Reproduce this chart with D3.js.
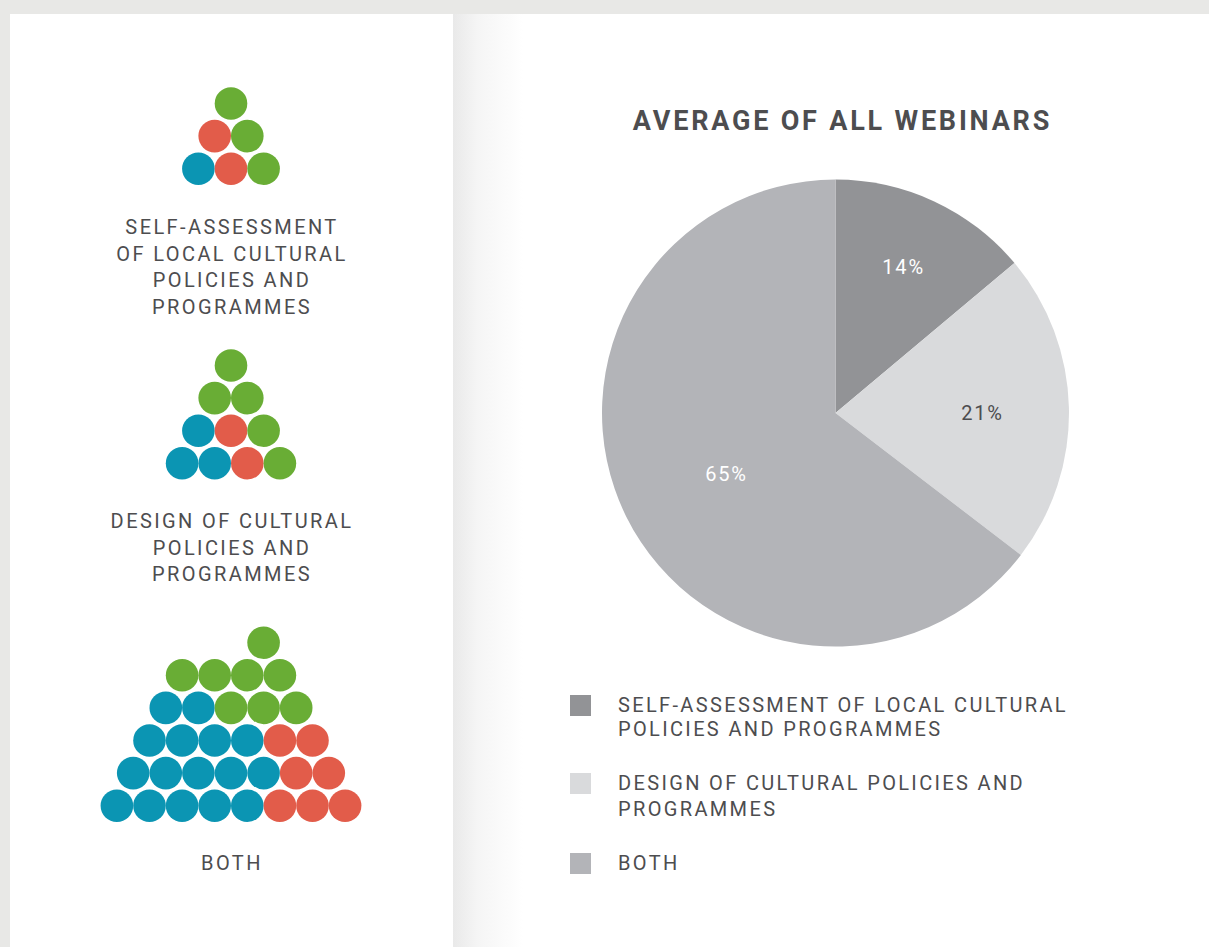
<!DOCTYPE html>
<html>
<head>
<meta charset="utf-8">
<script src="https://cdn.jsdelivr.net/npm/d3@7"></script>
<style>
    html, body { margin: 0; padding: 0; background: #e8e8e6; }
    svg { display: block; }
    text { font-family: Roboto, sans-serif; fill: #4d4d4f; }
</style>
</head>
<body>
<div id="chart"></div>
<script>
    // pie data, slices read off the picture so they don't sum from the rounded labels
    const pieLabels = ["14%", "21%", "65%"];
    const pieValues = [13.9, 21.5, 64.6];
    const pieColors = ["#929396", "#d9dadc", "#b3b4b8"];
    const pieTextColors = ["#ffffff", "#4d4d4f", "#ffffff"];

    // legend
    const legendLines = [
        ["SELF-ASSESSMENT OF LOCAL CULTURAL", "POLICIES AND PROGRAMMES"],
        ["DESIGN OF CULTURAL POLICIES AND", "PROGRAMMES"],
        ["BOTH"]
    ];

    // pyramids, top row first. g/r/b = dot colour, "-" = empty slot
    const pyramidSelf = [
        ["g"],
        ["r", "g"],
        ["b", "r", "g"]
    ];
    const pyramidDesign = [
        ["g"],
        ["g", "g"],
        ["b", "r", "g"],
        ["b", "b", "r", "g"]
    ];
    const pyramidBoth = [
        ["-", "-", "g"],
        ["g", "g", "g", "g"],
        ["b", "b", "g", "g", "g"],
        ["b", "b", "b", "b", "r", "r"],
        ["b", "b", "b", "b", "b", "r", "r"],
        ["b", "b", "b", "b", "b", "r", "r", "r"]
    ];
    const pyramidTitles = [
        ["SELF-ASSESSMENT", "OF LOCAL CULTURAL", "POLICIES AND", "PROGRAMMES"],
        ["DESIGN OF CULTURAL", "POLICIES AND", "PROGRAMMES"],
        ["BOTH"]
    ];

    const width = 1209, height = 947;

    const svg = d3.select("#chart").append("svg")
        .attr("width", width)
        .attr("height", height);

    // page shadow next to the fold
    const grad = svg.append("defs").append("linearGradient").attr("id", "fold");
    grad.append("stop").attr("offset", "0%").attr("stop-color", "#e9e9e9");
    grad.append("stop").attr("offset", "35%").attr("stop-color", "#f5f5f5");
    grad.append("stop").attr("offset", "100%").attr("stop-color", "#ffffff");

    svg.append("rect").attr("x", 10).attr("y", 14).attr("width", 443).attr("height", height - 14).attr("fill", "#ffffff");
    svg.append("rect").attr("x", 453).attr("y", 14).attr("width", width - 453).attr("height", height - 14).attr("fill", "#ffffff");
    svg.append("rect").attr("x", 453).attr("y", 14).attr("width", 70).attr("height", height - 14).attr("fill", "url(#fold)");

    // dots
    const dotColor = d3.scaleOrdinal()
        .domain(["g", "r", "b"])
        .range(["#69ad35", "#e25c4a", "#0b95b3"]);

    const step = 32.6;
    const radius = 16.3;

    function drawPyramid(rows, topY, titles, titleY) {
        const g = svg.append("g");
        const yScale = d3.scaleLinear().domain([0, 1]).range([topY, topY + step]);

        rows.forEach((row, r) => {
            const xScale = d3.scaleLinear()
                .domain([0, 1])
                .range([231 - (row.length - 1) * step / 2, 231 - (row.length - 1) * step / 2 + step]);

            g.selectAll(".row-" + r)
                .data(row.map((c, i) => ({ c: c, i: i })).filter(d => d.c !== "-"))
                .enter()
                .append("circle")
                .attr("class", "row-" + r)
                .attr("cx", d => xScale(d.i))
                .attr("cy", yScale(r))
                .attr("r", radius)
                .attr("fill", d => dotColor(d.c));
        });

        g.selectAll("text")
            .data(titles)
            .enter()
            .append("text")
            .attr("x", 232)
            .attr("y", (d, i) => titleY + i * 26.6)
            .attr("text-anchor", "middle")
            .style("font-size", "20px")
            .style("letter-spacing", "2.4px")
            .text(d => d);
    }

    drawPyramid(pyramidSelf, 103.5, pyramidTitles[0], 234);
    drawPyramid(pyramidDesign, 365.5, pyramidTitles[1], 528);
    drawPyramid(pyramidBoth, 642.7, pyramidTitles[2], 870);

    // title
    svg.append("text")
        .attr("x", 842.5)
        .attr("y", 130)
        .attr("text-anchor", "middle")
        .style("font-size", "27px")
        .style("font-weight", "700")
        .style("letter-spacing", "2.8px")
        .text("AVERAGE OF ALL WEBINARS");

    // pie
    const pieR = 233.5;
    const pieG = svg.append("g").attr("transform", "translate(835.5,413)");
    const pie = d3.pie().sort(null).value(d => d);
    const arc = d3.arc().innerRadius(0).outerRadius(pieR);
    const slices = pie(pieValues);

    // each label sits at its own distance from the centre, plus a small nudge
    const labelRadius = [161, 147, 126];
    const labelNudge = [[0, 0], [0, 3], [4, 5]];

    pieG.selectAll("path")
        .data(slices)
        .enter()
        .append("path")
        .attr("d", arc)
        .attr("fill", (d, i) => pieColors[i]);

    pieG.selectAll("text")
        .data(slices)
        .enter()
        .append("text")
        .attr("transform", (d, i) => {
            const c = d3.arc().innerRadius(labelRadius[i]).outerRadius(labelRadius[i]).centroid(d);
            return `translate(${c[0] + labelNudge[i][0]},${c[1] + labelNudge[i][1]})`;
        })
        .attr("text-anchor", "middle")
        .attr("dy", "0.35em")
        .style("font-size", "20px")
        .style("letter-spacing", "1.8px")
        .style("fill", (d, i) => pieTextColors[i])
        .text((d, i) => pieLabels[i]);

    // legend
    const legendY = d3.scaleOrdinal().domain([0, 1, 2]).range([695, 773, 853]);
    const legendGap = [24, 25.5, 0];
    const legend = svg.append("g");

    legend.selectAll("rect")
        .data(legendLines)
        .enter()
        .append("rect")
        .attr("x", 570)
        .attr("y", (d, i) => legendY(i))
        .attr("width", 21)
        .attr("height", 21)
        .attr("fill", (d, i) => pieColors[i]);

    legendLines.forEach((lines, i) => {
        legend.selectAll(".legend-text-" + i)
            .data(lines)
            .enter()
            .append("text")
            .attr("class", "legend-text-" + i)
            .attr("x", 618)
            .attr("y", (d, j) => legendY(i) + 17 + j * legendGap[i])
            .style("font-size", "20px")
            .style("letter-spacing", "2.35px")
            .text(d => d);
    });
</script>
</body>
</html>
